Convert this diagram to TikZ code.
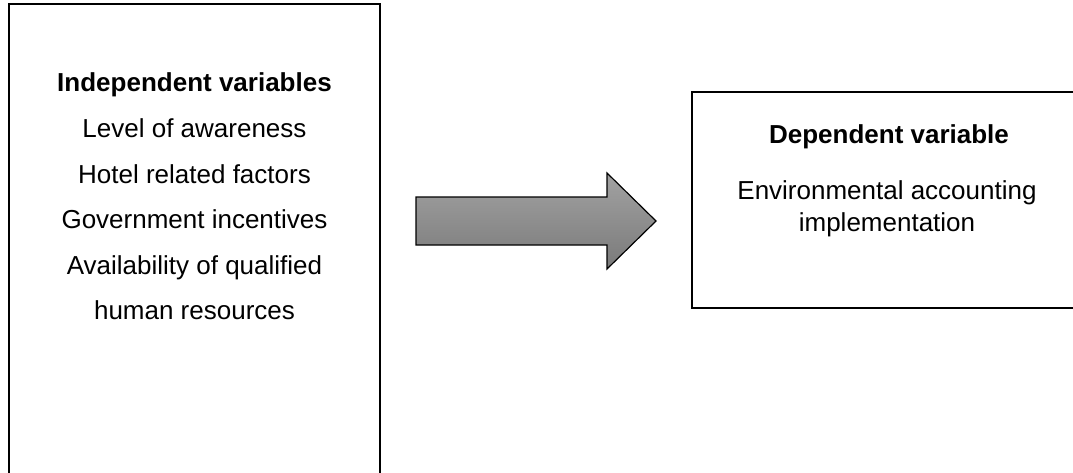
\documentclass[tikz,border=0pt]{standalone}
\usepackage{fontspec}
\setmainfont{Liberation Sans}
\usetikzlibrary{shadings}
\begin{document}
\begin{tikzpicture}[x=1pt,y=-1pt,
  varbox/.style={draw=black, line width=2.2pt, fill=white, inner sep=0pt},
  txt/.style={anchor=base, inner sep=0pt, font=\fontsize{26}{30}\selectfont},
  hdr/.style={txt, font=\fontsize{26}{30}\selectfont\bfseries},
  blockarrow/.style={draw=black, line width=1.2pt, line join=miter,
    top color={rgb,255:red,162;green,162;blue,162},
    bottom color={rgb,255:red,122;green,122;blue,122}}]
\useasboundingbox (0,0) rectangle (1073,472);
\clip (0,0) rectangle (1073,472);
% boxes
\node[varbox, minimum width=371pt, minimum height=478pt] (indep) at (194.5,243) {};
\node[varbox, minimum width=400pt, minimum height=216pt] (dep) at (892,200) {};
% left texts
\node[hdr] (ih) at (194.5,91.7) {Independent variables};
\node[txt] (i1) at (194.5,137.3) {Level of awareness};
\node[txt] (i2) at (194.5,183.0) {Hotel related factors};
\node[txt] (i3) at (194.5,228.6) {Government incentives};
\node[txt] (i4) at (194.5,274.2) {Availability of qualified};
\node[txt] (i5) at (194.5,319.8) {human resources};
% right texts
\node[hdr] (dh) at (889,143.3) {Dependent variable};
\node[txt] (d1) at (887,199.3) {Environmental accounting};
\node[txt] (d2) at (887,231.7) {implementation};
% block arrow
\path[blockarrow] (416,197) -- (607,197) -- (607,173) -- (656,221)
  -- (607,269) -- (607,245) -- (416,245) -- cycle;
\end{tikzpicture}
\end{document}
